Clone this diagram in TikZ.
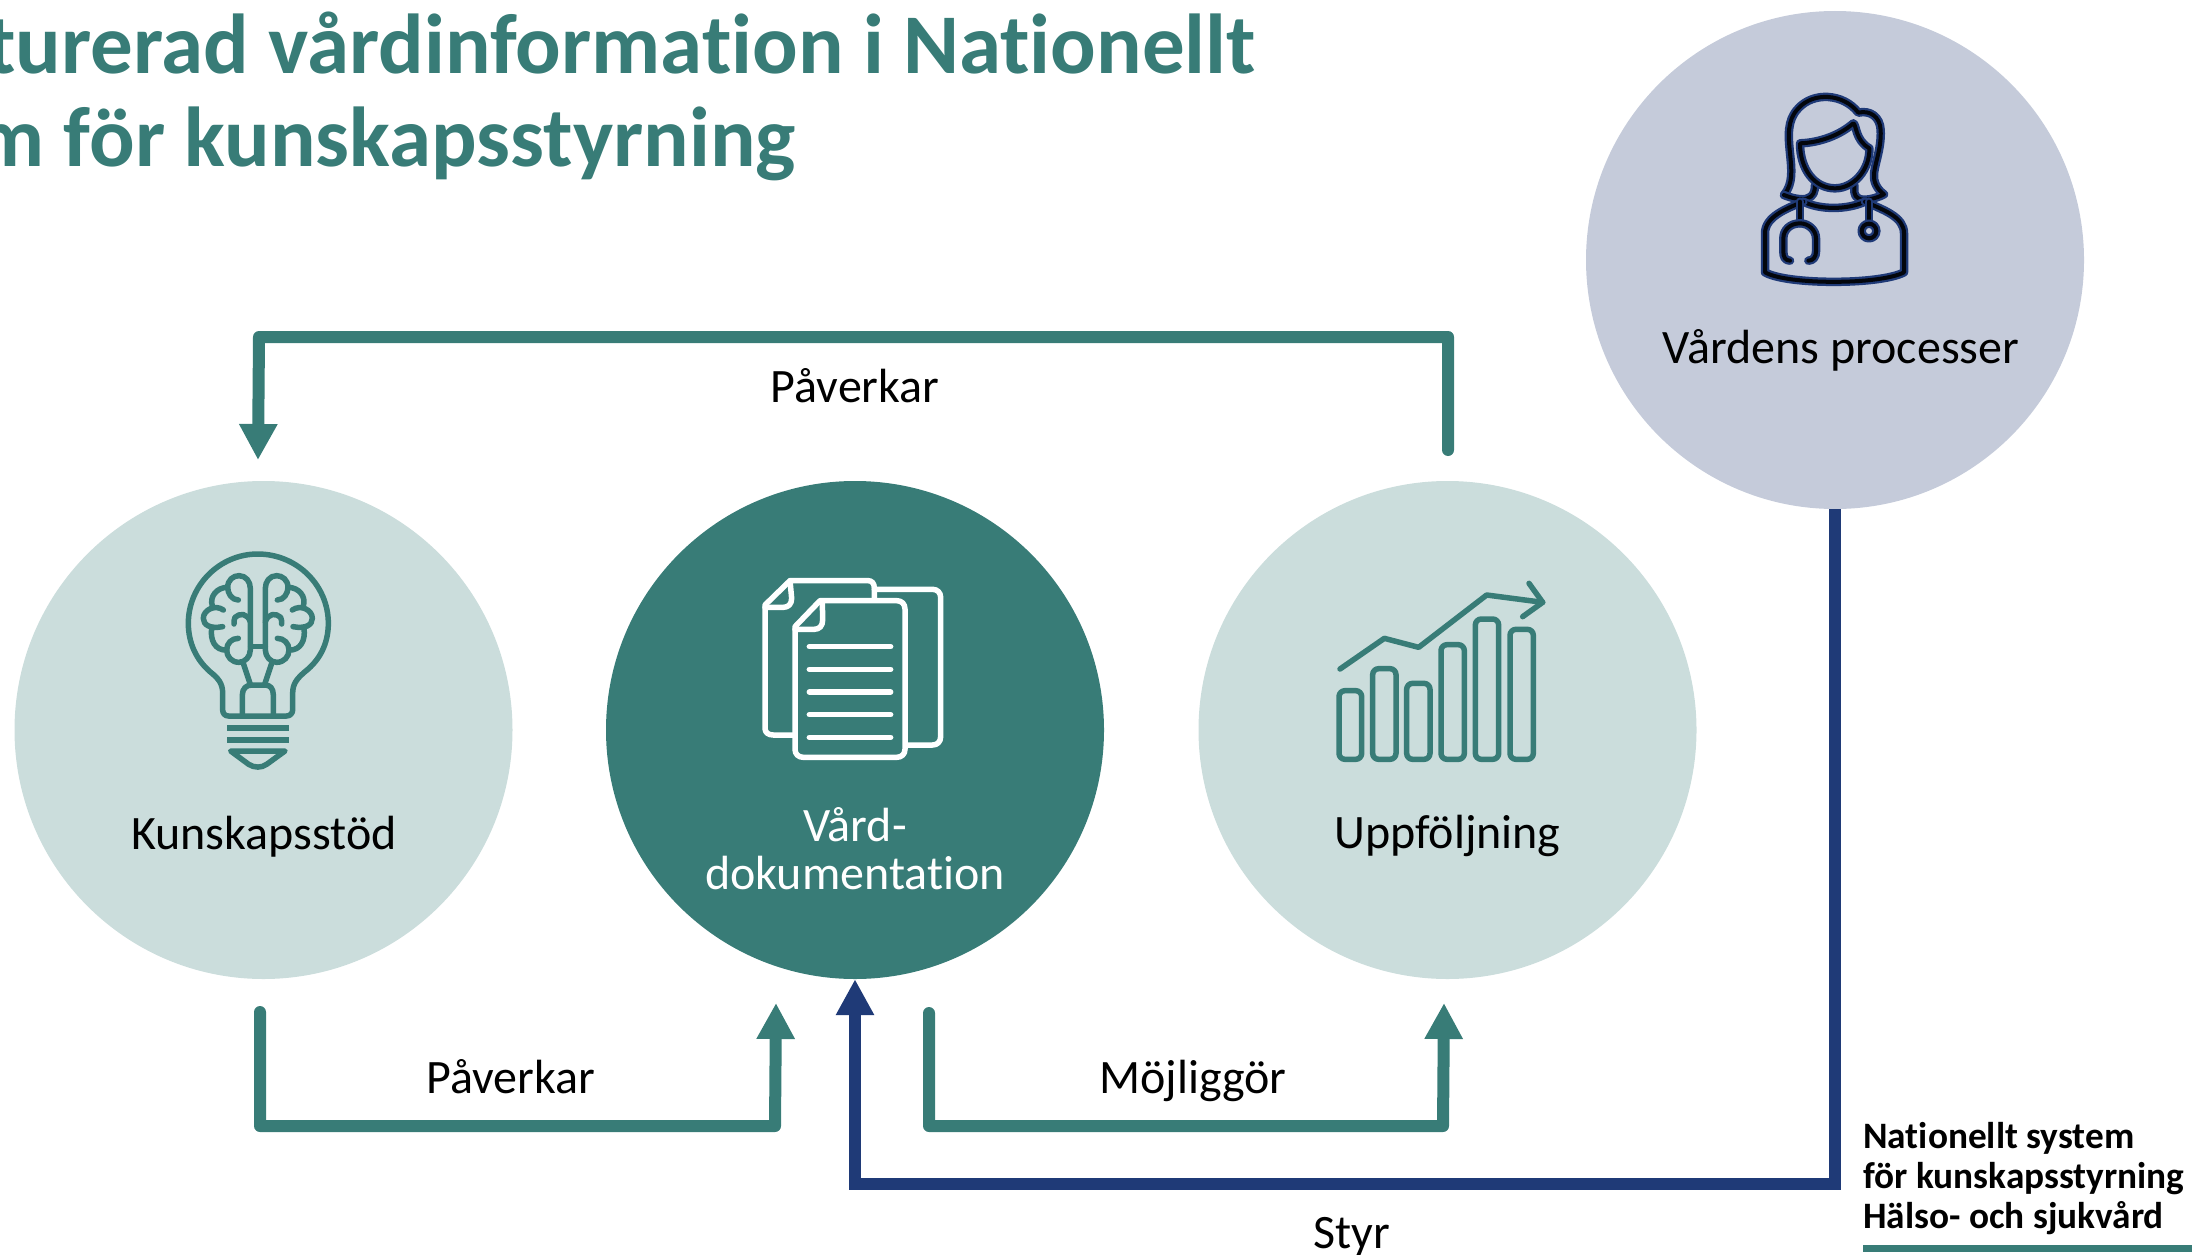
\documentclass[tikz,border=0pt]{standalone}
\usepackage{fontspec}
\setmainfont{Carlito}[Ligatures=NoCommon]
\usetikzlibrary{arrows.meta}
\definecolor{teal1}{HTML}{387C77}
\definecolor{tealL}{HTML}{CBDDDC}
\definecolor{lav}{HTML}{C5CBDA}
\definecolor{navy1}{HTML}{1F3A77}
\tikzset{
 disc/.style={circle,draw=none,inner sep=0,minimum size=#1},
 lab/.style={font=\fontsize{48}{48}\selectfont,text=black,inner sep=0,align=center},
 ttl/.style={font=\fontsize{85}{90}\selectfont\bfseries,text=teal1,inner sep=0,anchor=base east},
 brand/.style={font=\fontsize{37.3}{40}\selectfont\bfseries,text=black,inner sep=0,anchor=base west},
 tconn/.style={draw=teal1,line width=12,line cap=round,line join=round},
 nconn/.style={draw=navy1,line width=12,line join=miter},
 atip/.style={-{Triangle[length=36,width=36]}},
 ic/.style={line width=5.5,line cap=round,line join=round},
 doc/.style={line width=8.5,draw=navy1,line cap=round,line join=round,postaction={draw=black!90!navy1,line width=4}}
}
\newcommand{\brainhalf}{%
 \draw (235,210) .. controls (215,210) and (203,190) .. (203,172) .. controls (203,150) and (220,137) .. (237,137) .. controls (258,137) and (271,155) .. (271,175) -- (271,360) .. controls (271,380) and (255,397) .. (237,397) .. controls (215,397) and (200,380) .. (200,360) .. controls (200,340) and (215,325) .. (235,325);
 \draw (203,172) .. controls (170,172) and (148,200) .. (157,228);
 \draw (190,240) .. controls (165,222) and (130,240) .. (130,265) .. controls (130,285) and (150,297) .. (188,290);
 \draw (155,295) .. controls (150,330) and (165,362) .. (200,360);
 \draw (271,275) .. controls (262,250) and (240,248) .. (225,262) .. controls (222,268) and (222,275) .. (222,282);
}
\begin{document}
\begin{tikzpicture}[x=1pt,y=-1pt]
\useasboundingbox (0,0) rectangle (2192,1255);
\clip (0,0) rectangle (2192,1255);

% title
\node[ttl] (t1) at (1256,74) {turerad vårdinformation i Nationellt};
\node[ttl] (t2) at (796,166) {m för kunskapsstyrning};

% circles
\node[disc=498,fill=tealL] (kun) at (263.5,730) {};
\node[disc=498,fill=teal1] (vard) at (855,730) {};
\node[disc=498,fill=tealL] (upp) at (1447.5,730) {};
\node[disc=498,fill=lav] (proc) at (1835,260) {};

% free ends
\coordinate (topS) at (1448,450);
\coordinate (topR) at (1448,337);
\coordinate (topL) at (259,337);
\coordinate (topTip) at (258,460);
\coordinate (b1s) at (260,1012);
\coordinate (b1m) at (260,1126);
\coordinate (b1c) at (775,1126);
\coordinate (b1tip) at (776,1003);
\coordinate (b2s) at (929,1013);
\coordinate (b2m) at (929,1126);
\coordinate (b2c) at (1443,1126);
\coordinate (b2tip) at (1444,1003);
\coordinate (n1) at (1835,1184);
\coordinate (n2) at (855,1184);

% connectors
\draw[tconn,atip] (topS) -- (topR) -- (topL) -- (topTip);
\draw[tconn,atip] (b1s) -- (b1m) -- (b1c) -- (b1tip);
\draw[tconn,atip] (b2s) -- (b2m) -- (b2c) -- (b2tip);
\draw[nconn,atip] (proc.south) -- (n1) -- (n2) -- (vard.south);

% labels
\node[lab] (lk) at (264,837) {Kunskapsstöd};
\node[lab,text=white] (lv) at (855,849) {Vård-\\dokumentation};
\node[lab] (lu) at (1447.5,836) {Uppföljning};
\node[lab] (lp) at (1841,350) {Vårdens processer};
\node[lab] (e1) at (855,386) {Påverkar};
\node[lab] (e2) at (511,1077) {Påverkar};
\node[lab] (e3) at (1193,1081) {Möjliggör};
\node[lab] (e4) at (1352,1237) {Styr};

% brand
\node[brand] (b1) at (1863,1148) {Nationellt system};
\node[brand] (b2) at (1863,1188) {för kunskapsstyrning};
\node[brand] (b3) at (1863,1228) {Hälso- och sjukvård};
\fill[teal1] (1863,1245) rectangle (2192,1252);

% bulb icon
\begin{scope}[shift={(160,530)},scale=1/3,draw=teal1,ic]
 \draw (205,558) .. controls (195,558) and (188,550) .. (188,540) -- (188,490) .. controls (188,460) and (175,445) .. (150,425) .. controls (110,390) and (85,340) .. (85,280) .. controls (85,165) and (180,72) .. (293,72) .. controls (410,72) and (505,165) .. (505,280) .. controls (505,340) and (480,390) .. (435,425) .. controls (412,445) and (398,460) .. (398,490) -- (398,540) .. controls (398,550) and (390,558) .. (380,558) -- cycle;
 \draw (247,558) -- (247,495) .. controls (247,475) and (260,465) .. (275,465) -- (315,465) .. controls (330,465) and (340,475) .. (340,495) -- (340,558);
 \draw (250,400) -- (270,460);
 \draw (335,400) -- (315,460);
 \draw (272,350) -- (316,350);
 \brainhalf
 \begin{scope}[shift={(587,0)},xscale=-1]
  \brainhalf
 \end{scope}
 \fill[teal1] (201,585) rectangle (387,603);
 \fill[teal1] (201,621) rectangle (387,639);
 \draw (212,663) -- (375,663) -- (320,703) .. controls (305,714) and (283,714) .. (266,703) -- cycle;
\end{scope}

% documents icon
\begin{scope}[shift={(740,560)},scale=1/3,draw=white,ic]
 \draw (403,118) -- (403,84) .. controls (403,70) and (395,62) .. (385,62) -- (150,62) -- (75,135) -- (75,505) .. controls (75,518) and (85,525) .. (100,525) -- (160,525);
 \draw (150,62) -- (155,115) .. controls (155,132) and (145,142) .. (130,142) -- (75,142);
 \draw (403,88) -- (578,88) .. controls (592,88) and (602,98) .. (602,112) -- (602,530) .. controls (602,545) and (592,555) .. (578,555) -- (500,555);
 \draw (240,122) -- (470,122) .. controls (485,122) and (495,132) .. (495,147) -- (495,568) .. controls (495,582) and (485,592) .. (470,592) -- (190,592) .. controls (175,592) and (165,582) .. (165,568) -- (165,200) -- cycle;
 \draw (247,125) -- (248,180) .. controls (248,198) and (238,208) .. (222,208) -- (165,208);
 \foreach \yy in {260,328,396,464,532} \draw (208,\yy) -- (452,\yy);
\end{scope}

% chart icon
\begin{scope}[shift={(1320,570)},scale=1/3,draw=teal1,ic]
 \foreach \xa/\xb/\ya in {57/125/362,158/228/296,260/330/340,363/433/224,466/536/147,570/640/178}
  \draw[rounded corners=6] (\xa,\ya) rectangle (\xb,568);
 \draw (60,297) -- (193,205) -- (296,232) -- (500,75) -- (668,97);
 \draw (627,40) -- (668,97) -- (608,140);
\end{scope}

% doctor icon
\begin{scope}[shift={(1720,70)},scale=1/3]
 \path[doc] (192,375) .. controls (220,340) and (215,300) .. (210,250) .. controls (205,200) and (200,150) .. (235,115) .. controls (280,65) and (370,70) .. (415,128) .. controls (450,120) and (480,140) .. (482,180) .. controls (485,240) and (460,290) .. (462,320) .. controls (462,345) and (480,365) .. (492,373) .. controls (470,385) and (430,395) .. (415,385) .. controls (400,378) and (403,360) .. (403,345);
 \path[doc] (192,375) .. controls (215,385) and (250,392) .. (262,385) .. controls (280,380) and (285,365) .. (285,345);
 \path[doc] (240,220) .. controls (300,218) and (360,195) .. (400,160) .. controls (410,165) and (405,210) .. (448,235) .. controls (450,300) and (400,355) .. (345,355) .. controls (285,355) and (240,300) .. (240,220) -- cycle;
 \path[doc] (250,395) .. controls (300,420) and (380,420) .. (435,395);
 \path[doc] (250,395) .. controls (200,415) and (135,440) .. (135,490) -- (135,607) .. controls (200,645) and (480,645) .. (552,607) -- (552,490) .. controls (552,440) and (490,420) .. (435,395);
 \path[doc] (240,395) -- (240,460);
 \path[doc] (210,572) .. controls (195,572) and (190,560) .. (190,545) -- (190,505) .. controls (190,480) and (210,460) .. (240,460) .. controls (265,460) and (288,480) .. (288,505) -- (288,545) .. controls (288,560) and (280,572) .. (265,572);
 \path[doc] (447,395) -- (447,458);
 \path[doc] (447,483) circle (22);
\end{scope}
\end{tikzpicture}
\end{document}
